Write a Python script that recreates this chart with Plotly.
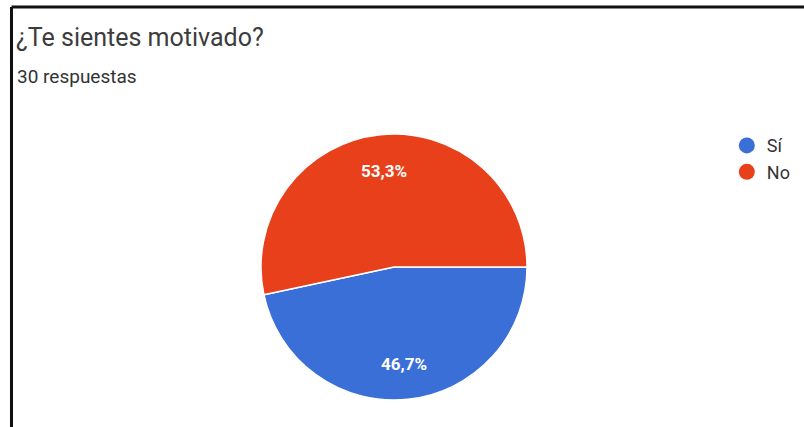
import math
import plotly.graph_objects as go

labels = ["Sí", "No"]
values = [14, 16]
colors = ["#3a6fd8", "#e8401a"]
title_text = "¿Te sientes motivado?"
subtitle_text = "30 respuestas"

W, H = 804, 427
dom_x = [0.3246, 0.6555]
dom_y = [0.063, 0.686]

fig = go.Figure()
fig.add_trace(go.Pie(
    labels=labels, values=values, sort=False, direction="clockwise", rotation=90,
    marker=dict(colors=colors, line=dict(color="white", width=1.5)),
    textinfo="none", showlegend=False, hoverinfo="label+percent",
    domain=dict(x=dom_x, y=dom_y),
))
for lab, col in zip(labels, colors):
    fig.add_trace(go.Scatter(x=[None], y=[None], mode="markers", name=lab,
                             marker=dict(symbol="circle", size=17, color=col)))

# percentage labels placed at mid-angle of each slice
total = sum(values)
cx = (dom_x[0] + dom_x[1]) / 2
cy = (dom_y[0] + dom_y[1]) / 2
r_px = 97
start = 90.0
annots = []
for v in values:
    span = v / total * 360
    mid = math.radians(start + span / 2)
    start += span
    pct = f"{v / total * 100:.1f}".replace(".", ",") + "%"
    annots.append(dict(
        text=f"<b>{pct}</b>", x=cx + r_px * math.sin(mid) / W, y=cy + r_px * math.cos(mid) / H,
        xref="paper", yref="paper", xanchor="center", yanchor="middle", showarrow=False,
        font=dict(size=17, color="white", family="Roboto"),
    ))

fig.update_layout(
    width=W, height=H, margin=dict(l=0, r=0, t=0, b=0),
    paper_bgcolor="white", plot_bgcolor="white",
    font=dict(family="Roboto", color="#333333"),
    xaxis=dict(visible=False), yaxis=dict(visible=False),
    legend=dict(x=0.904, y=0.702, xanchor="left", yanchor="top",
                font=dict(size=18, color="#333333", family="Roboto"),
                tracegroupgap=0, bgcolor="rgba(0,0,0,0)"),
    annotations=[
        dict(text=title_text, x=14/W, y=1 - 38/H, xref="paper", yref="paper",
             xanchor="left", yanchor="middle", showarrow=False,
             font=dict(size=25, color="#3c3c3c", family="Roboto")),
        dict(text=subtitle_text, x=15/W, y=1 - 77/H, xref="paper", yref="paper",
             xanchor="left", yanchor="middle", showarrow=False,
             font=dict(size=19, color="#333333", family="Roboto")),
    ] + annots,
    shapes=[
        dict(type="line", xref="paper", yref="paper", x0=11.5 / W, x1=1, y0=1 - 7 / H, y1=1 - 7 / H,
             line=dict(color="#111111", width=3)),
        dict(type="line", xref="paper", yref="paper", x0=11.5 / W, x1=11.5 / W, y0=0, y1=1 - 7 / H,
             line=dict(color="#111111", width=3)),
    ],
)
fig.write_html("out.html")
